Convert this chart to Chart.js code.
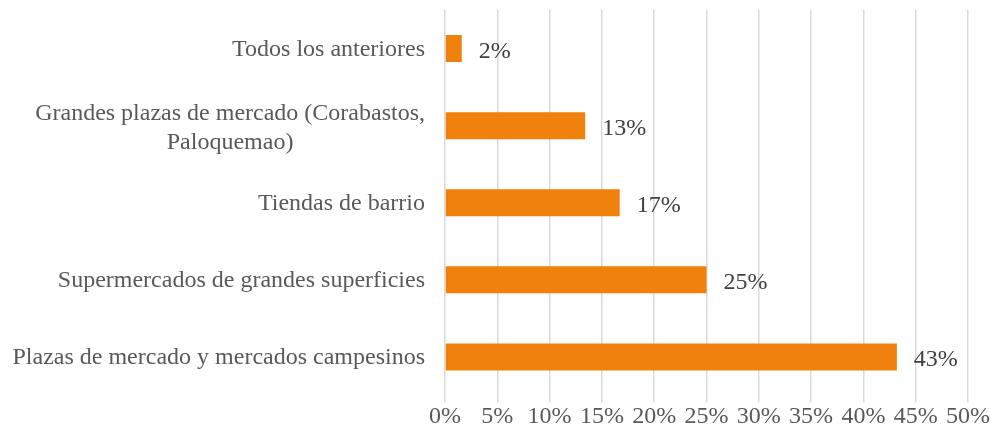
<!DOCTYPE html>
<html>
<head>
<meta charset="utf-8">
<script src="https://cdn.jsdelivr.net/npm/chart.js@4.4.1/dist/chart.umd.min.js"></script>
<style>
  html, body { margin: 0; padding: 0; background: #fff; }
  #wrap { width: 990px; height: 433px; }
</style>
</head>
<body>
<div id="wrap"><canvas id="placesChart"></canvas></div>
<script>
// categories, top to bottom
const categories = [
    ['Todos los anteriores'],
    ['Grandes plazas de mercado (Corabastos,', 'Paloquemao)'],
    ['Tiendas de barrio'],
    ['Supermercados de grandes superficies'],
    ['Plazas de mercado y mercados campesinos']
];
// bar lengths (percent)
const shares = [1.6, 13.4, 16.7, 25.0, 43.2];
// labels printed next to the bars
const shareLabels = ['2%', '13%', '17%', '25%', '43%'];
const xTicks = [0, 5, 10, 15, 20, 25, 30, 35, 40, 45, 50];

const serif = '"Liberation Serif", "Times New Roman", serif';
const fontSize = 24;

// data labels at the end of each bar
const barLabels = {
    id: 'barLabels',
    afterDatasetsDraw(chart) {
        const ctx = chart.ctx;
        const meta = chart.getDatasetMeta(0);
        ctx.save();
        ctx.font = fontSize + 'px ' + serif;
        ctx.fillStyle = '#404040';
        ctx.textAlign = 'left';
        ctx.textBaseline = 'middle';
        meta.data.forEach(function(bar, i) {
            ctx.fillText(shareLabels[i], bar.x + 17, bar.y + 3);
        });
        ctx.restore();
    }
};

// category labels: right aligned, wrapped label centred on itself
const catLabels = {
    id: 'catLabels',
    afterDraw(chart) {
        const ctx = chart.ctx;
        const yScale = chart.scales.y;
        const right = yScale.right - 20;
        const lineH = 29;
        ctx.save();
        ctx.font = fontSize + 'px ' + serif;
        ctx.fillStyle = '#595959';
        ctx.textBaseline = 'middle';
        categories.forEach(function(lines, i) {
            const y = yScale.getPixelForTick(i);
            if (lines.length === 1) {
                ctx.textAlign = 'right';
                ctx.fillText(lines[0], right, y + 1);
            } else {
                const w = Math.max.apply(null, lines.map(l => ctx.measureText(l).width));
                const cx = right - w / 2;
                const y0 = y + 3 - (lines.length - 1) * lineH / 2;
                ctx.textAlign = 'center';
                lines.forEach(function(l, k) {
                    ctx.fillText(l, cx, y0 + k * lineH);
                });
            }
        });
        ctx.restore();
    }
};

const ctx = document.getElementById('placesChart').getContext('2d');
const placesChart = new Chart(ctx, {
    type: 'bar',
    data: {
        labels: categories.map(c => c.join(' ')),
        datasets: [{
            data: shares,
            backgroundColor: '#F0810C',
            borderWidth: 0,
            barPercentage: 0.35,
            categoryPercentage: 1.0
        }]
    },
    options: {
        indexAxis: 'y',
        responsive: true,
        maintainAspectRatio: false,
        animation: false,
        layout: {
            padding: { top: 10, right: 22, bottom: 0, left: 0 }
        },
        scales: {
            x: {
                min: 0,
                max: 50,
                afterBuildTicks: function(scale) {
                    scale.ticks = xTicks.map(v => ({ value: v }));
                },
                afterFit: function(scale) {
                    scale.height = 37.5;
                    scale.paddingLeft = 0;
                    scale.paddingRight = 0;
                },
                border: { display: false },
                grid: {
                    color: '#d9d9d9',
                    lineWidth: 1.5,
                    drawTicks: true,
                    tickLength: 7
                },
                ticks: {
                    padding: 0,
                    color: '#595959',
                    font: { family: serif, size: fontSize },
                    maxRotation: 0,
                    callback: function(v) { return v + '%'; }
                }
            },
            y: {
                afterFit: function(scale) { scale.width = 445; },
                border: { display: false },
                grid: { display: false },
                ticks: { display: false }
            }
        },
        plugins: {
            legend: { display: false },
            tooltip: { enabled: false }
        }
    },
    plugins: [barLabels, catLabels]
});
</script>
</body>
</html>
